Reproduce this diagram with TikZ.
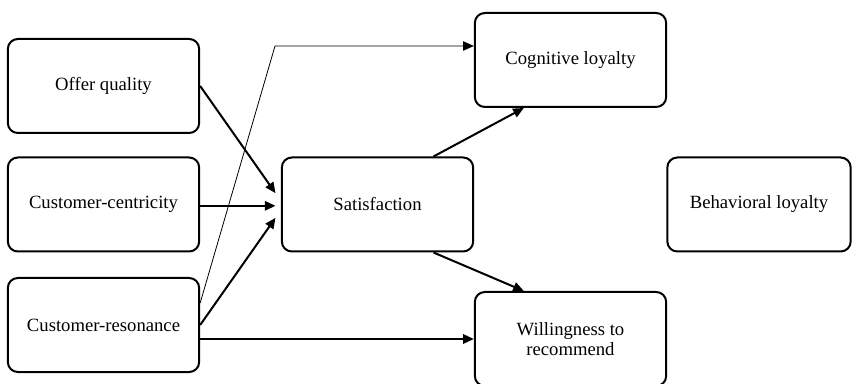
\documentclass[tikz,border=0pt]{standalone}
\usepackage{fontspec}
\setmainfont{Liberation Serif}
\usetikzlibrary{arrows.meta}
\begin{document}
\begin{tikzpicture}[x=0.75pt,y=-0.75pt,
  box/.style={draw,line width=1.5pt,rounded corners=7.5pt,minimum width=143.5pt,minimum height=70.5pt,align=center,font=\fontsize{14}{15.5}\selectfont},
  link/.style={line width=1.5pt,-{Triangle[length=8pt,width=7pt]}},
  thinlink/.style={line width=0.6pt,-{Triangle[length=8pt,width=7pt]}}]
\useasboundingbox (0,0) rectangle (852,384);
\node[box] (offer) at (103.5,86) {Offer quality};
\node[box] (centric) at (103.5,204.5) {Customer-centricity};
\node[box] (reson) at (103.5,325) {Customer-resonance};
\node[box] (sat) at (377.5,204.5) {Satisfaction};
\node[box] (cog) at (570.5,60) {Cognitive loyalty};
\node[box] (will) at (570.5,339) {Willingness to\\recommend};
\node[box,minimum width=137.5pt] (behav) at (759,204.5) {Behavioral loyalty};

\coordinate (bend) at (275,46);
\draw[link] (offer.east) -- ([shift={(-4pt,8.5pt)}]sat.west);
\draw[link] ([yshift=-1pt]centric.east) -- ([shift={(-4pt,-1pt)}]sat.west);
\draw[link] (reson.east) -- ([shift={(-4pt,-10pt)}]sat.west);
\draw[link] (reson.east |- will.west) -- (will.west);
\draw[thinlink] ([yshift=16.5pt]reson.east) -- (bend) -- (bend -| cog.west);
\draw[link] ([xshift=42pt]sat.north) -- ([xshift=-35pt]cog.south);
\draw[link] ([xshift=42pt]sat.south) -- ([xshift=-35pt]will.north);
\end{tikzpicture}
\end{document}
